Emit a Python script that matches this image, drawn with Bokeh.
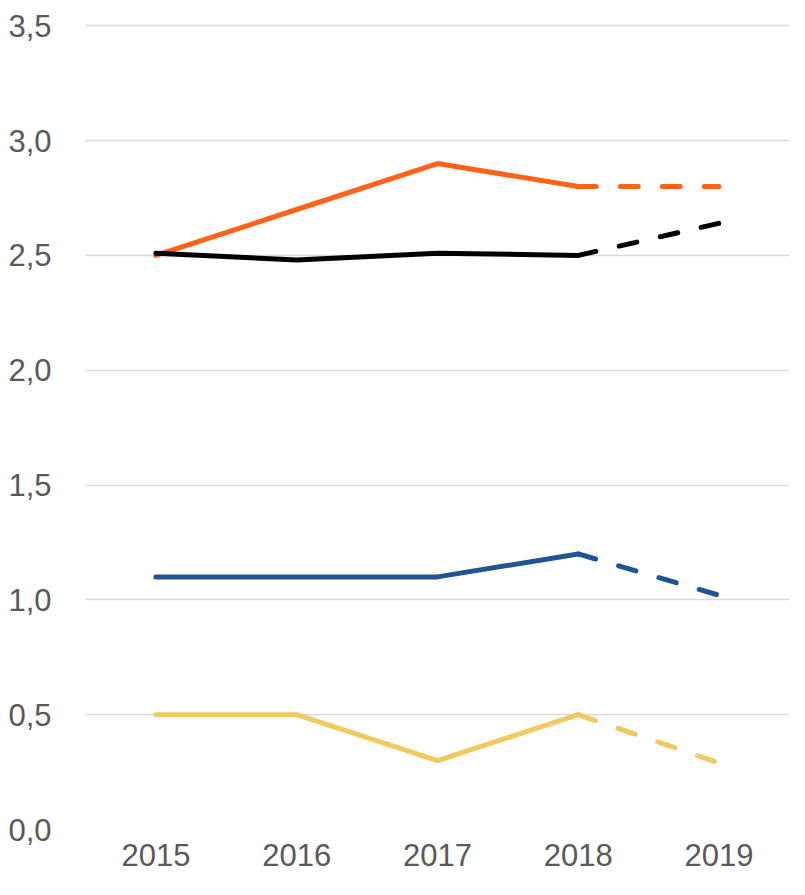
from bokeh.plotting import figure
from bokeh.models import FactorRange, Range1d, FixedTicker, CustomJSTickFormatter
from bokeh.embed import file_html
from bokeh.resources import INLINE

years = ["2015", "2016", "2017", "2018", "2019"]
orange = [2.50, 2.70, 2.90, 2.80, 2.80]
black = [2.51, 2.48, 2.51, 2.50, 2.64]
blue = [1.10, 1.10, 1.10, 1.20, 1.02]
yellow = [0.50, 0.50, 0.30, 0.50, 0.29]
y_ticks = [0, 0.5, 1.0, 1.5, 2.0, 2.5, 3.0, 3.5]

series = [
    (orange, "#FF6319"),
    (black, "#000000"),
    (blue, "#1F5590"),
    (yellow, "#EFCA5F"),
]

p = figure(
    x_range=FactorRange(*years, range_padding=0),
    y_range=Range1d(0, 3.51),
    width=789, height=879,
    output_backend="svg", toolbar_location=None,
    min_border_top=23, min_border_right=0, min_border_left=85,
    min_border_bottom=50,
)
p.outline_line_color = None
p.background_fill_color = "white"
p.border_fill_color = "white"

for vals, col in series:
    p.line(years[:4], vals[:4], line_color=col, line_width=5,
           line_cap="round", line_join="round")
    p.line(years[3:], vals[3:], line_color=col, line_width=5,
           line_cap="round", line_dash="18 24")

p.xgrid.grid_line_color = None
p.ygrid.grid_line_color = "#D9D9D9"
p.ygrid.grid_line_width = 1.5

p.yaxis.ticker = FixedTicker(ticks=y_ticks)
p.yaxis.formatter = CustomJSTickFormatter(code="return tick.toFixed(1).replace('.', ',');")

for ax in (p.xaxis[0], p.yaxis[0]):
    ax.axis_line_color = None
    ax.major_tick_line_color = None
    ax.minor_tick_line_color = None
    ax.major_label_text_font = "Liberation Sans"
    ax.major_label_text_font_size = "31px"
    ax.major_label_text_color = "#595959"

p.yaxis.major_label_standoff = 28
p.xaxis.major_label_standoff = 8

open("out.html", "w").write(file_html(p, INLINE))
